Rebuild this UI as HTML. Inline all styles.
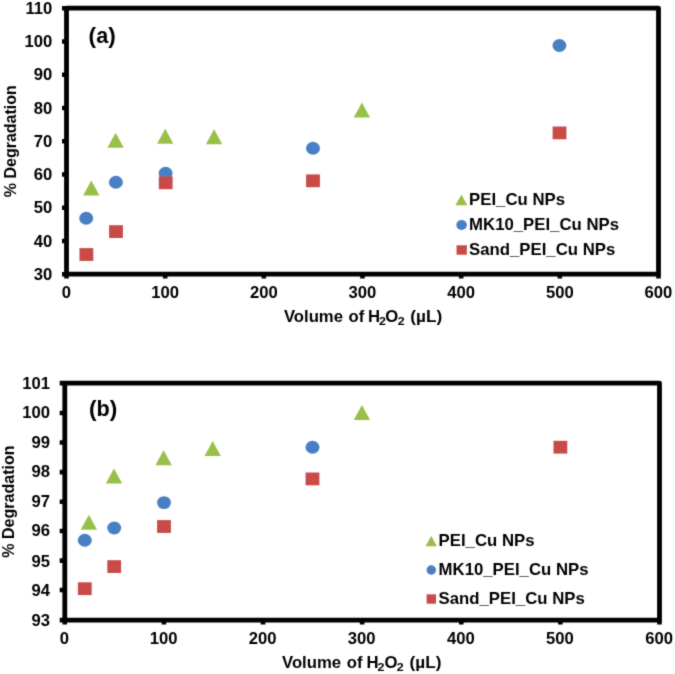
<!DOCTYPE html>
<html lang="en">
<head>
<meta charset="utf-8">
<title>Degradation vs volume of H2O2</title>
<style>
html,body{margin:0;padding:0;background:#fff;}
body{width:675px;height:674px;overflow:hidden;}
svg{display:block;}
svg text{font-family:"Liberation Sans", Arial, Helvetica, sans-serif;font-weight:700;fill:#000;}
</style>
</head>
<body>
<svg width="675" height="674" viewBox="0 0 675 674">
<rect width="675" height="674" fill="#fff"/>
<defs><filter id="soft" x="0" y="0" width="675" height="674" filterUnits="userSpaceOnUse"><feConvolveMatrix order="3" kernelMatrix="0.01917 0.10012 0.01917 0.10012 0.52283 0.10012 0.01917 0.10012 0.01917" edgeMode="duplicate" preserveAlpha="false"/></filter></defs>
<g filter="url(#soft)">
<rect x="66.50" y="8.20" width="592.00" height="266.00" fill="none" stroke="#000" stroke-width="4.8" stroke-linejoin="round"/>
<path d="M62.00 274.20H66.50M62.00 240.95H66.50M62.00 207.70H66.50M62.00 174.45H66.50M62.00 141.20H66.50M62.00 107.95H66.50M62.00 74.70H66.50M62.00 41.45H66.50M62.00 8.20H66.50M66.50 274.20V278.50M165.17 274.20V278.50M263.83 274.20V278.50M362.50 274.20V278.50M461.17 274.20V278.50M559.83 274.20V278.50M658.50 274.20V278.50" stroke="#000" stroke-width="4.6" fill="none"/>
<text transform="translate(52.30 280.00) scale(1.0280 1.0000)" font-size="16.20" text-anchor="end">30</text>
<text transform="translate(52.30 247.00) scale(1.0280 1.0000)" font-size="16.20" text-anchor="end">40</text>
<text transform="translate(52.30 213.00) scale(1.0280 1.0000)" font-size="16.20" text-anchor="end">50</text>
<text transform="translate(52.30 180.00) scale(1.0280 1.0000)" font-size="16.20" text-anchor="end">60</text>
<text transform="translate(52.30 147.00) scale(1.0280 1.0000)" font-size="16.20" text-anchor="end">70</text>
<text transform="translate(52.30 114.00) scale(1.0280 1.0000)" font-size="16.20" text-anchor="end">80</text>
<text transform="translate(52.30 80.00) scale(1.0280 1.0000)" font-size="16.20" text-anchor="end">90</text>
<text transform="translate(52.30 47.00) scale(1.0280 1.0000)" font-size="16.20" text-anchor="end">100</text>
<text transform="translate(52.30 14.00) scale(1.0280 1.0000)" font-size="16.20" text-anchor="end">110</text>
<text transform="translate(66.50 298.00) scale(1.0280 1.0000)" font-size="16.20" text-anchor="middle">0</text>
<text transform="translate(165.17 298.00) scale(1.0280 1.0000)" font-size="16.20" text-anchor="middle">100</text>
<text transform="translate(263.83 298.00) scale(1.0280 1.0000)" font-size="16.20" text-anchor="middle">200</text>
<text transform="translate(362.50 298.00) scale(1.0280 1.0000)" font-size="16.20" text-anchor="middle">300</text>
<text transform="translate(461.17 298.00) scale(1.0280 1.0000)" font-size="16.20" text-anchor="middle">400</text>
<text transform="translate(559.83 298.00) scale(1.0280 1.0000)" font-size="16.20" text-anchor="middle">500</text>
<text transform="translate(658.50 298.00) scale(1.0280 1.0000)" font-size="16.20" text-anchor="middle">600</text>
<path d="M91.30 180.60L99.45 195.60L83.15 195.60Z" fill="#97c04a"/>
<path d="M115.60 132.70L123.75 147.70L107.45 147.70Z" fill="#97c04a"/>
<path d="M165.20 128.80L173.35 143.80L157.05 143.80Z" fill="#97c04a"/>
<path d="M214.10 129.20L222.25 144.20L205.95 144.20Z" fill="#97c04a"/>
<path d="M361.90 102.40L370.05 117.40L353.75 117.40Z" fill="#97c04a"/>
<ellipse cx="86.20" cy="218.30" rx="6.95" ry="6.45" fill="#4a7fc4"/>
<ellipse cx="115.90" cy="182.30" rx="6.95" ry="6.45" fill="#4a7fc4"/>
<ellipse cx="165.60" cy="173.20" rx="6.95" ry="6.45" fill="#4a7fc4"/>
<ellipse cx="313.00" cy="148.20" rx="6.95" ry="6.45" fill="#4a7fc4"/>
<ellipse cx="559.40" cy="45.50" rx="6.95" ry="6.45" fill="#4a7fc4"/>
<rect x="79.50" y="248.10" width="13.80" height="12.80" fill="#c84c48"/>
<rect x="109.10" y="225.20" width="13.80" height="12.80" fill="#c84c48"/>
<rect x="158.80" y="176.40" width="13.80" height="12.80" fill="#c84c48"/>
<rect x="306.10" y="174.40" width="13.80" height="12.80" fill="#c84c48"/>
<rect x="552.60" y="126.50" width="13.80" height="12.80" fill="#c84c48"/>
<path d="M461.40 194.70L467.40 205.30L455.40 205.30Z" fill="#97c04a"/>
<ellipse cx="461.60" cy="225.00" rx="5.30" ry="4.95" fill="#4a7fc4"/>
<rect x="456.55" y="245.25" width="10.30" height="9.50" fill="#c84c48"/>
<text transform="translate(469.10 205.00) scale(1.0350 1.0000)" font-size="16.20" text-anchor="start">PEI_Cu NPs</text>
<text transform="translate(469.10 230.00) scale(1.0350 1.0000)" font-size="16.20" text-anchor="start">MK10_PEI_Cu NPs</text>
<text transform="translate(469.10 255.00) scale(1.0350 1.0000)" font-size="16.20" text-anchor="start">Sand_PEI_Cu NPs</text>
<text transform="translate(88.60 43.00) scale(1.0200 1.0000)" font-size="21.20" text-anchor="start"><tspan font-size="22.2">(</tspan>a<tspan font-size="22.2">)</tspan></text>
<text transform="translate(283.89 322.00) scale(1.0580 1.0000)" font-size="15.80" text-anchor="start">Volume</text>
<text transform="translate(348.55 322.00) scale(1.0580 1.0000)" font-size="15.80" text-anchor="start">of</text>
<text transform="translate(367.98 322.00) scale(1.0580 1.0000)" font-size="15.80" text-anchor="start">H</text>
<text transform="translate(379.00 325.10) scale(1.1700 1.0000)" font-size="10.60" text-anchor="start">2</text>
<text transform="translate(385.31 322.00) scale(1.0580 1.0000)" font-size="15.80" text-anchor="start">O</text>
<text transform="translate(397.68 325.10) scale(1.1700 1.0000)" font-size="10.60" text-anchor="start">2</text>
<text transform="translate(410.34 322.00) scale(1.0897 1.0000)" font-size="15.80" text-anchor="start">(µL)</text>
<text transform="translate(16.00 141.20) rotate(-90) scale(1.0000 1.0000)" font-size="16.05" text-anchor="middle">% Degradation</text>
<rect x="64.80" y="383.10" width="594.70" height="237.00" fill="none" stroke="#000" stroke-width="4.8" stroke-linejoin="round"/>
<path d="M59.70 620.10H64.80M59.70 590.00H64.80M59.70 560.60H64.80M59.70 531.00H64.80M59.70 501.80H64.80M59.70 472.10H64.80M59.70 442.50H64.80M59.70 413.00H64.80M59.70 383.15H64.80M64.80 620.10V624.60M163.92 620.10V624.60M263.03 620.10V624.60M362.15 620.10V624.60M461.27 620.10V624.60M560.38 620.10V624.60M659.50 620.10V624.60" stroke="#000" stroke-width="4.6" fill="none"/>
<text transform="translate(49.90 626.00) scale(1.0280 1.0000)" font-size="16.20" text-anchor="end">93</text>
<text transform="translate(49.90 596.00) scale(1.0280 1.0000)" font-size="16.20" text-anchor="end">94</text>
<text transform="translate(49.90 567.00) scale(1.0280 1.0000)" font-size="16.20" text-anchor="end">95</text>
<text transform="translate(49.90 536.00) scale(1.0280 1.0000)" font-size="16.20" text-anchor="end">96</text>
<text transform="translate(49.90 507.00) scale(1.0280 1.0000)" font-size="16.20" text-anchor="end">97</text>
<text transform="translate(49.90 477.00) scale(1.0280 1.0000)" font-size="16.20" text-anchor="end">98</text>
<text transform="translate(49.90 448.00) scale(1.0280 1.0000)" font-size="16.20" text-anchor="end">99</text>
<text transform="translate(49.90 418.00) scale(1.0280 1.0000)" font-size="16.20" text-anchor="end">100</text>
<text transform="translate(49.90 389.00) scale(1.0280 1.0000)" font-size="16.20" text-anchor="end">101</text>
<text transform="translate(64.40 644.00) scale(1.0280 1.0000)" font-size="16.20" text-anchor="middle">0</text>
<text transform="translate(163.52 644.00) scale(1.0280 1.0000)" font-size="16.20" text-anchor="middle">100</text>
<text transform="translate(262.63 644.00) scale(1.0280 1.0000)" font-size="16.20" text-anchor="middle">200</text>
<text transform="translate(361.75 644.00) scale(1.0280 1.0000)" font-size="16.20" text-anchor="middle">300</text>
<text transform="translate(460.87 644.00) scale(1.0280 1.0000)" font-size="16.20" text-anchor="middle">400</text>
<text transform="translate(559.98 644.00) scale(1.0280 1.0000)" font-size="16.20" text-anchor="middle">500</text>
<text transform="translate(659.10 644.00) scale(1.0280 1.0000)" font-size="16.20" text-anchor="middle">600</text>
<path d="M88.90 514.80L97.05 529.80L80.75 529.80Z" fill="#97c04a"/>
<path d="M114.00 468.60L122.15 483.60L105.85 483.60Z" fill="#97c04a"/>
<path d="M163.60 450.20L171.75 465.20L155.45 465.20Z" fill="#97c04a"/>
<path d="M212.70 440.90L220.85 455.90L204.55 455.90Z" fill="#97c04a"/>
<path d="M361.90 404.90L370.05 419.90L353.75 419.90Z" fill="#97c04a"/>
<ellipse cx="84.80" cy="540.20" rx="6.95" ry="6.45" fill="#4a7fc4"/>
<ellipse cx="114.20" cy="528.00" rx="6.95" ry="6.45" fill="#4a7fc4"/>
<ellipse cx="164.00" cy="502.60" rx="6.95" ry="6.45" fill="#4a7fc4"/>
<ellipse cx="312.50" cy="447.30" rx="6.95" ry="6.45" fill="#4a7fc4"/>
<rect x="77.90" y="582.30" width="13.80" height="12.80" fill="#c84c48"/>
<rect x="107.30" y="560.20" width="13.80" height="12.80" fill="#c84c48"/>
<rect x="157.10" y="520.10" width="13.80" height="12.80" fill="#c84c48"/>
<rect x="305.60" y="472.50" width="13.80" height="12.80" fill="#c84c48"/>
<rect x="553.50" y="440.80" width="13.80" height="12.80" fill="#c84c48"/>
<path d="M431.20 535.80L436.80 546.20L425.60 546.20Z" fill="#97c04a"/>
<ellipse cx="431.30" cy="570.00" rx="4.75" ry="4.75" fill="#4a7fc4"/>
<rect x="426.60" y="594.30" width="9.40" height="9.40" fill="#c84c48"/>
<text transform="translate(438.60 546.00) scale(1.0350 1.0000)" font-size="16.20" text-anchor="start">PEI_Cu NPs</text>
<text transform="translate(438.60 575.00) scale(1.0350 1.0000)" font-size="16.20" text-anchor="start">MK10_PEI_Cu NPs</text>
<text transform="translate(438.60 604.00) scale(1.0350 1.0000)" font-size="16.20" text-anchor="start">Sand_PEI_Cu NPs</text>
<text transform="translate(89.00 416.00) scale(1.0200 1.0000)" font-size="21.20" text-anchor="start"><tspan font-size="22.2">(</tspan>b<tspan font-size="22.2">)</tspan></text>
<text transform="translate(281.99 668.00) scale(1.0580 1.0000)" font-size="15.80" text-anchor="start">Volume</text>
<text transform="translate(346.85 668.00) scale(1.0580 1.0000)" font-size="15.80" text-anchor="start">of</text>
<text transform="translate(366.48 668.00) scale(1.0580 1.0000)" font-size="15.80" text-anchor="start">H</text>
<text transform="translate(377.50 671.10) scale(1.1700 1.0000)" font-size="10.60" text-anchor="start">2</text>
<text transform="translate(384.41 668.00) scale(1.0580 1.0000)" font-size="15.80" text-anchor="start">O</text>
<text transform="translate(396.78 671.10) scale(1.1700 1.0000)" font-size="10.60" text-anchor="start">2</text>
<text transform="translate(409.54 668.00) scale(1.0897 1.0000)" font-size="15.80" text-anchor="start">(µL)</text>
<text transform="translate(14.00 501.60) rotate(-90) scale(1.0000 1.0000)" font-size="16.05" text-anchor="middle">% Degradation</text>
</g>
</svg>
</body>
</html>
